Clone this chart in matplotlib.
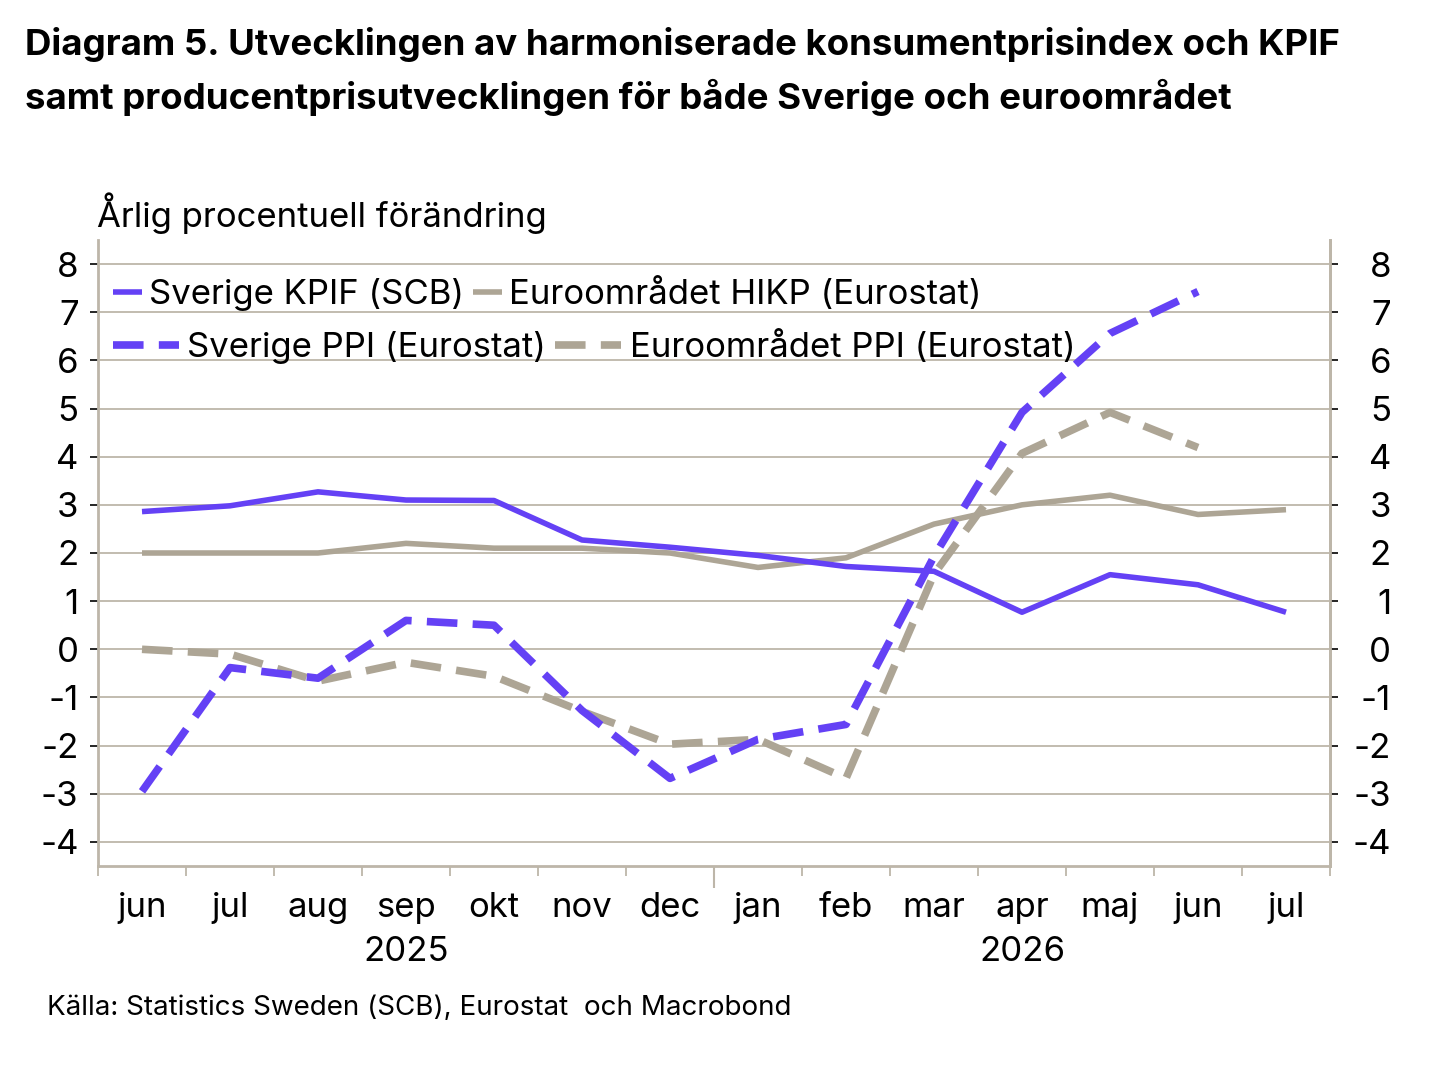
import matplotlib
matplotlib.use("Agg")
import matplotlib.pyplot as plt
import matplotlib.transforms as mtransforms
import numpy as np

plt.rcParams['font.family'] = ['Inter', 'DejaVu Sans']

months = ["jun", "jul", "aug", "sep", "okt", "nov", "dec",
          "jan", "feb", "mar", "apr", "maj", "jun", "jul"]
years = ["2025", "2026"]
year_centers = [3, 10]

se_kpif = [2.86, 2.98, 3.27, 3.10, 3.09, 2.27, 2.12, 1.95, 1.72, 1.62, 0.77, 1.55, 1.34, 0.77]
ea_hicp = [2.0, 2.0, 2.0, 2.2, 2.1, 2.1, 2.0, 1.7, 1.9, 2.6, 3.0, 3.2, 2.8, 2.9]
se_ppi = [-2.95, -0.38, -0.60, 0.60, 0.50, -1.27, -2.68, -1.87, -1.56, 1.93, 4.92, 6.56, 7.43]
ea_ppi = [0.0, -0.10, -0.66, -0.27, -0.56, -1.29, -1.97, -1.87, -2.68, 1.56, 4.07, 4.92, 4.19]

labels = ["Sverige KPIF (SCB)", "Euroområdet HIKP (Eurostat)",
          "Sverige PPI (Eurostat)", "Euroområdet PPI (Eurostat)"]

purple = "#6441F5"
tan = "#ADA595"
grid_c = "#BDB6A9"
fs = 25

fig = plt.figure(figsize=(14.54, 10.76), dpi=100)
ax = fig.add_axes([98/1454, 1-866/1076, (1330-98)/1454, (866-240)/1076])

x = np.arange(len(months))
l1, = ax.plot(x, se_kpif, color=purple, lw=4.0, solid_capstyle='butt', zorder=4)
l2, = ax.plot(x, ea_hicp, color=tan, lw=4.0, solid_capstyle='butt', zorder=3)
l3, = ax.plot(np.arange(len(se_ppi)), se_ppi, color=purple, lw=5.5, dashes=(4, 2), zorder=4)
l4, = ax.plot(np.arange(len(ea_ppi)), ea_ppi, color=tan, lw=5.5, dashes=(4, 2), zorder=3)

ax.set_xlim(-0.5, len(months) - 0.5)
ax.set_ylim(-4.5, 8.5)
yt = np.arange(-4, 9)
ax.set_yticks(yt)
ax.set_yticklabels([str(v) for v in yt])
ax.yaxis.grid(True, color=grid_c, lw=1.3)
ax.set_axisbelow(True)

ax.spines['top'].set_visible(False)
for s in ['left', 'right', 'bottom']:
    ax.spines[s].set_color(grid_c)
    ax.spines[s].set_linewidth(2)

ax.tick_params(axis='y', direction='out', length=6, width=1.2, color='black',
               labelsize=fs, pad=8)

ax.set_xticks(x)
ax.set_xticklabels(months)
ax.tick_params(axis='x', which='major', length=0, labelsize=fs, pad=19)
bounds = [b for b in np.arange(-0.5, len(months)) if abs(b - 6.5) > 0.01]
ax.set_xticks(bounds, minor=True)
ax.tick_params(axis='x', which='minor', length=7, width=1.3, color=grid_c, direction='out')

sec = ax.secondary_xaxis('bottom')
sec.set_xticks([6.5])
sec.set_xticklabels([""])
sec.tick_params(length=16, width=1.5, color=grid_c)
sec.spines['bottom'].set_visible(False)

tx = mtransforms.blended_transform_factory(ax.transData, fig.transFigure)
for yr, c in zip(years, year_centers):
    ax.text(c, 1-952/1076, yr, transform=tx, ha='center', va='center', fontsize=fs)

ax2 = ax.twinx()
ax2.set_ylim(ax.get_ylim())
ax2.set_yticks(yt)
ax2.set_yticklabels([str(v) for v in yt])
for s in ['top', 'left', 'bottom']:
    ax2.spines[s].set_visible(False)
ax2.spines['right'].set_color(grid_c)
ax2.spines['right'].set_linewidth(2)
ax2.tick_params(axis='y', direction='out', length=6, width=1.2, color='black',
                labelsize=fs, pad=38)
for lab in ax2.get_yticklabels():
    lab.set_horizontalalignment('right')

leg1 = ax.legend([l1, l2], labels[:2], ncol=2, loc='upper left',
                 bbox_to_anchor=(0.012, 0.941), frameon=False, fontsize=fs,
                 handlelength=0.85, handletextpad=0.2, columnspacing=0.25,
                 borderaxespad=0, borderpad=0)
ax.add_artist(leg1)
leg2 = ax.legend([l3, l4], labels[2:], ncol=2, loc='upper left',
                 bbox_to_anchor=(0.012, 0.856), frameon=False, fontsize=fs,
                 handlelength=1.9, handletextpad=0.25, columnspacing=0.25,
                 borderaxespad=0, borderpad=0)

fig.text(25/1454, 1-45/1076, "Diagram 5. Utvecklingen av harmoniserade konsumentprisindex och KPIF",
         fontsize=26.4, fontweight='bold', va='center', ha='left')
fig.text(25/1454, 1-97/1076, "samt producentprisutvecklingen för både Sverige och euroområdet",
         fontsize=26.4, fontweight='bold', va='center', ha='left')
fig.text(97/1454, 1-213/1076, "Årlig procentuell förändring", fontsize=fs, va='center', ha='left')
fig.text(47/1454, 1-1008/1076, "Källa: Statistics Sweden (SCB), Eurostat  och Macrobond",
         fontsize=20, va='center', ha='left')

fig.savefig("out.png", dpi=100)
